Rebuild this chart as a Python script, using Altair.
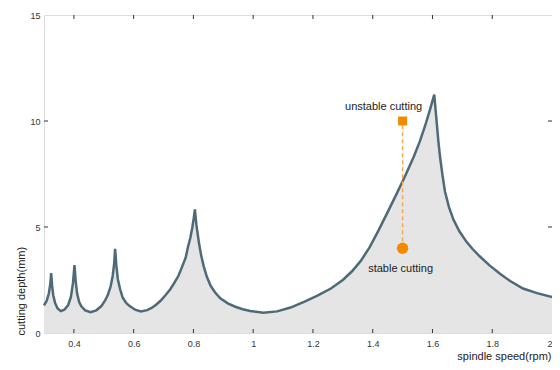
import altair as alt
import pandas as pd

# stability lobe boundary (spindle speed, cutting depth)
speed = [0.300, 0.309, 0.316, 0.321, 0.324, 0.327, 0.331, 0.337, 0.345, 0.356,
         0.368, 0.381, 0.390, 0.397, 0.402, 0.406, 0.411, 0.418, 0.425, 0.438,
         0.456, 0.475, 0.492, 0.505, 0.5135, 0.523, 0.530, 0.535, 0.538, 0.542,
         0.547, 0.555, 0.5635, 0.575, 0.5855, 0.605, 0.624, 0.645, 0.660, 0.674,
         0.690, 0.707, 0.722, 0.735, 0.750, 0.762, 0.774, 0.782, 0.790, 0.796,
         0.801, 0.805, 0.810, 0.818, 0.826, 0.835, 0.845, 0.857, 0.872, 0.890,
         0.915, 0.940, 0.965, 0.990, 1.034, 1.080, 1.125, 1.172, 1.215, 1.260,
         1.300, 1.330, 1.360, 1.390, 1.420, 1.450, 1.482, 1.510, 1.537, 1.558,
         1.576, 1.592, 1.606, 1.610, 1.615, 1.620, 1.626, 1.634, 1.642, 1.655,
         1.670, 1.690, 1.714, 1.735, 1.758, 1.790, 1.825, 1.860, 1.903, 1.950,
         2.000]
depth = [1.30, 1.52, 1.85, 2.30, 2.82, 2.25, 1.78, 1.42, 1.17, 1.03,
         1.10, 1.32, 1.70, 2.35, 3.20, 2.45, 1.85, 1.45, 1.26, 1.07,
         0.98, 1.07, 1.27, 1.55, 1.79, 2.20, 2.70, 3.30, 3.97, 3.20,
         2.55, 2.05, 1.66, 1.42, 1.28, 1.10, 1.02, 1.08, 1.18, 1.32,
         1.52, 1.79, 2.05, 2.34, 2.70, 3.12, 3.55, 4.07, 4.50, 4.95,
         5.40, 5.83, 5.10, 4.30, 3.65, 3.12, 2.65, 2.25, 1.92, 1.64,
         1.40, 1.24, 1.12, 1.04, 0.96, 1.02, 1.20, 1.48, 1.76, 2.10,
         2.50, 2.90, 3.40, 4.05, 4.85, 5.70, 6.62, 7.45, 8.30, 9.05,
         9.80, 10.55, 11.25, 10.60, 9.80, 9.00, 8.23, 7.40, 6.66, 5.95,
         5.35, 4.80, 4.30, 3.95, 3.62, 3.20, 2.81, 2.45, 2.10, 1.88,
         1.70]

# annotated test points
pt_speed = [1.5, 1.5]
pt_depth = [10.0, 4.0]
pt_label = ["unstable cutting", "stable cutting"]

x_ticks = [0.4, 0.6, 0.8, 1.0, 1.2, 1.4, 1.6, 1.8, 2.0]
y_ticks = [0, 5, 10, 15]
x_inner_ticks = [0.4, 0.6, 0.8, 1.0, 1.2, 1.4, 1.6, 1.8]
y_inner_ticks = [5, 10]

W, H = 508, 318
FONT = "Liberation Sans"

curve = pd.DataFrame({"speed": speed, "depth": depth})
pts = pd.DataFrame({"speed": pt_speed, "depth": pt_depth, "label": pt_label})
seg = pd.DataFrame({"speed": [pt_speed[0]], "d1": [pt_depth[1]], "d2": [pt_depth[0]]})
xt = pd.DataFrame({"v": x_inner_ticks})
yt = pd.DataFrame({"v": y_inner_ticks})

xs = alt.Scale(domain=[0.3, 2.0], nice=False, zero=False)
ys = alt.Scale(domain=[0, 15], nice=False)

x_axis = alt.Axis(values=x_ticks, format="~g", ticks=False, domain=False, grid=False,
                  labelFontSize=9, labelFont=FONT, labelColor="#333", labelPadding=6,
                  title="spindle speed(rpm)", titleFont=FONT, titleFontSize=11,
                  titleFontWeight="normal", titleColor="#222", titleAnchor="start",
                  titleAlign="right", titleBaseline="alphabetic", titleX=W - 1, titleY=26)
y_axis = alt.Axis(values=y_ticks, ticks=False, domain=False, grid=False,
                  labelFontSize=9, labelFont=FONT, labelColor="#333", labelPadding=4,
                  title="cutting depth(mm)", titleFont=FONT, titleFontSize=11,
                  titleFontWeight="normal", titleColor="#222", titleAngle=270,
                  titleAlign="left", titleBaseline="alphabetic", titleX=-20, titleY=320)

base = alt.Chart(curve)
area = base.mark_area(color="#e5e5e5").encode(
    x=alt.X("speed:Q", scale=xs, axis=x_axis),
    y=alt.Y("depth:Q", scale=ys, axis=y_axis),
)
line = base.mark_line(color="#4e6a77", strokeWidth=2.5).encode(
    x=alt.X("speed:Q", scale=xs), y=alt.Y("depth:Q", scale=ys)
)

dash = alt.Chart(seg).mark_rule(color="#f5a94e", strokeWidth=1.5, strokeDash=[4, 3]).encode(
    x=alt.X("speed:Q", scale=xs), y=alt.Y("d1:Q", scale=ys), y2="d2:Q"
)
sq = alt.Chart(pts).transform_filter(alt.datum.label == "unstable cutting").mark_square(
    color="#f28a00", size=80, opacity=1).encode(
    x=alt.X("speed:Q", scale=xs), y=alt.Y("depth:Q", scale=ys))
circ = alt.Chart(pts).transform_filter(alt.datum.label == "stable cutting").mark_circle(
    color="#f28a00", size=130, opacity=1).encode(
    x=alt.X("speed:Q", scale=xs), y=alt.Y("depth:Q", scale=ys))

t_unstable = alt.Chart(pts).transform_filter(alt.datum.label == "unstable cutting").mark_text(
    font=FONT, fontSize=11, color="#222", dx=-19, dy=-11, baseline="alphabetic", align="center").encode(
    x=alt.X("speed:Q", scale=xs), y=alt.Y("depth:Q", scale=ys), text="label:N")
t_stable = alt.Chart(pts).transform_filter(alt.datum.label == "stable cutting").mark_text(
    font=FONT, fontSize=11, color="#222", dx=-2, dy=24, baseline="alphabetic", align="center").encode(
    x=alt.X("speed:Q", scale=xs), y=alt.Y("depth:Q", scale=ys), text="label:N")

tick_style = dict(color="#333", strokeWidth=1)
bt = alt.Chart(xt).mark_rule(**tick_style).encode(
    x=alt.X("v:Q", scale=xs), y=alt.value(H), y2=alt.value(H - 4))
tt = alt.Chart(xt).mark_rule(**tick_style).encode(
    x=alt.X("v:Q", scale=xs), y=alt.value(0), y2=alt.value(4))
lt = alt.Chart(yt).mark_rule(**tick_style).encode(
    y=alt.Y("v:Q", scale=ys), x=alt.value(0), x2=alt.value(4))
rt = alt.Chart(yt).mark_rule(**tick_style).encode(
    y=alt.Y("v:Q", scale=ys), x=alt.value(W), x2=alt.value(W - 4))

chart = alt.layer(area, line, dash, sq, circ, t_unstable, t_stable, bt, tt, lt, rt).properties(
    width=W, height=H,
    autosize=alt.AutoSizeParams(type="none"),
    padding={"left": 36, "top": 7, "right": 0, "bottom": 29},
).configure_view(stroke="#222", strokeWidth=1).configure(background="white")

chart.save("out.html", embed_options={"renderer": "svg", "actions": False})
